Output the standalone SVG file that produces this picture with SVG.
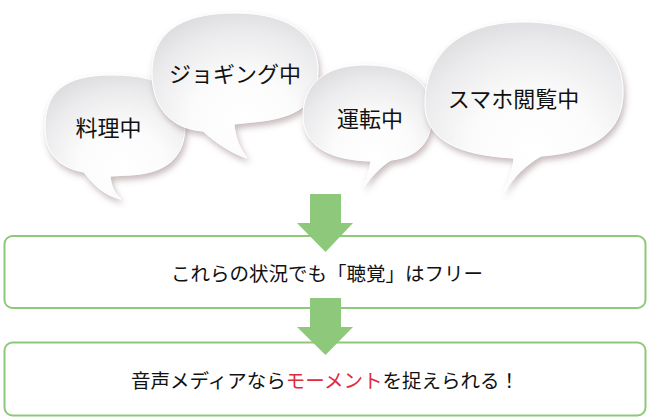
<svg xmlns="http://www.w3.org/2000/svg" width="650" height="418" viewBox="0 0 650 418">
<defs>
<radialGradient id="bub" cx="0.55" cy="0.7" r="0.78" fx="0.55" fy="0.75">
<stop offset="0" stop-color="#ffffff"/>
<stop offset="0.4" stop-color="#fbfbfb"/>
<stop offset="0.75" stop-color="#ebebed"/>
<stop offset="1" stop-color="#d9d9dc"/>
</radialGradient>
<filter id="sh" x="-20%" y="-20%" width="140%" height="150%">
<feDropShadow dx="2" dy="4" stdDeviation="3" flood-color="#7a5a5e" flood-opacity="0.42"/>
</filter>
</defs>
<style>
.bubble{fill:url(#bub);stroke:#ffffff;stroke-width:1;filter:url(#sh)}
.bt{font-family:"Noto Sans CJK JP","Noto Sans CJK SC",sans-serif;font-size:22px;fill:#111;text-anchor:middle}
.box{fill:#ffffff;stroke:#8dc87b;stroke-width:2}
.tx{font-family:"Noto Sans CJK JP","Noto Sans CJK SC",sans-serif;font-size:19.5px;fill:#111}
.arrow{fill:#8dc87b}
.red{fill:#e02a3c}
</style>
<g id="bubble-cooking">
<path class="bubble" d="M112,75 C163,75 185,92 185,125 C185,158 166,173 130,175 L110,176 C111,186 114,193 121,199 C106,196 94,186 84,172 C60,168 45,154 45,128 C45,92 64,75 112,75 Z"/>
<text class="bt" x="108.5" y="135.5">料理中</text>
</g>
<g id="bubble-jogging">
<path class="bubble" d="M235,13 C293,13 318,38 318,70 C318,102 300,116 262,121 L234,124 C235,137 239,148 247,158 C231,153 215,142 203,131 C172,129 152,108 152,73 C152,35 177,13 235,13 Z"/>
<text class="bt" x="235" y="81.5">ジョギング中</text>
</g>
<g id="bubble-driving">
<path class="bubble" d="M365,65 C410,65 432,84 432,113 C432,142 418,157 391,160 C381,166 372,176 364,186 C367,178 370,169 371,161 C330,160 303,146 303,116 C303,85 324,65 365,65 Z"/>
<text class="bt" x="370" y="126.5">運転中</text>
</g>
<g id="bubble-smartphone">
<path class="bubble" d="M522,22 C590,22 623,50 623,92 C623,132 594,152 541,156 C527,164 513,177 504,192 C509,181 513,170 514,158 C455,155 425,138 425,104 C425,52 463,22 522,22 Z"/>
<text class="bt" x="513.5" y="106.5">スマホ閲覧中</text>
</g>
<g id="box-free">
<rect class="box" x="4.5" y="236" width="641" height="72" rx="8"/>
<text class="tx" x="327" y="280.5" text-anchor="middle">これらの状況でも「聴覚」はフリー</text>
</g>
<g id="box-moment">
<rect class="box" x="4.5" y="342.5" width="641" height="73" rx="8"/>
<text class="tx" x="131" y="387.5" textLength="388" lengthAdjust="spacing">音声メディアなら<tspan class="red">モーメント</tspan>を捉えられる！</text>
</g>
<g id="connectors">
<polygon class="arrow" points="310,194 341,194 341,223 353,223 325.5,252 297,223 310,223"/>
<polygon class="arrow" points="310,298 341,298 341,327 353,327 325.5,355 297,327 310,327"/>
</g>
</svg>
